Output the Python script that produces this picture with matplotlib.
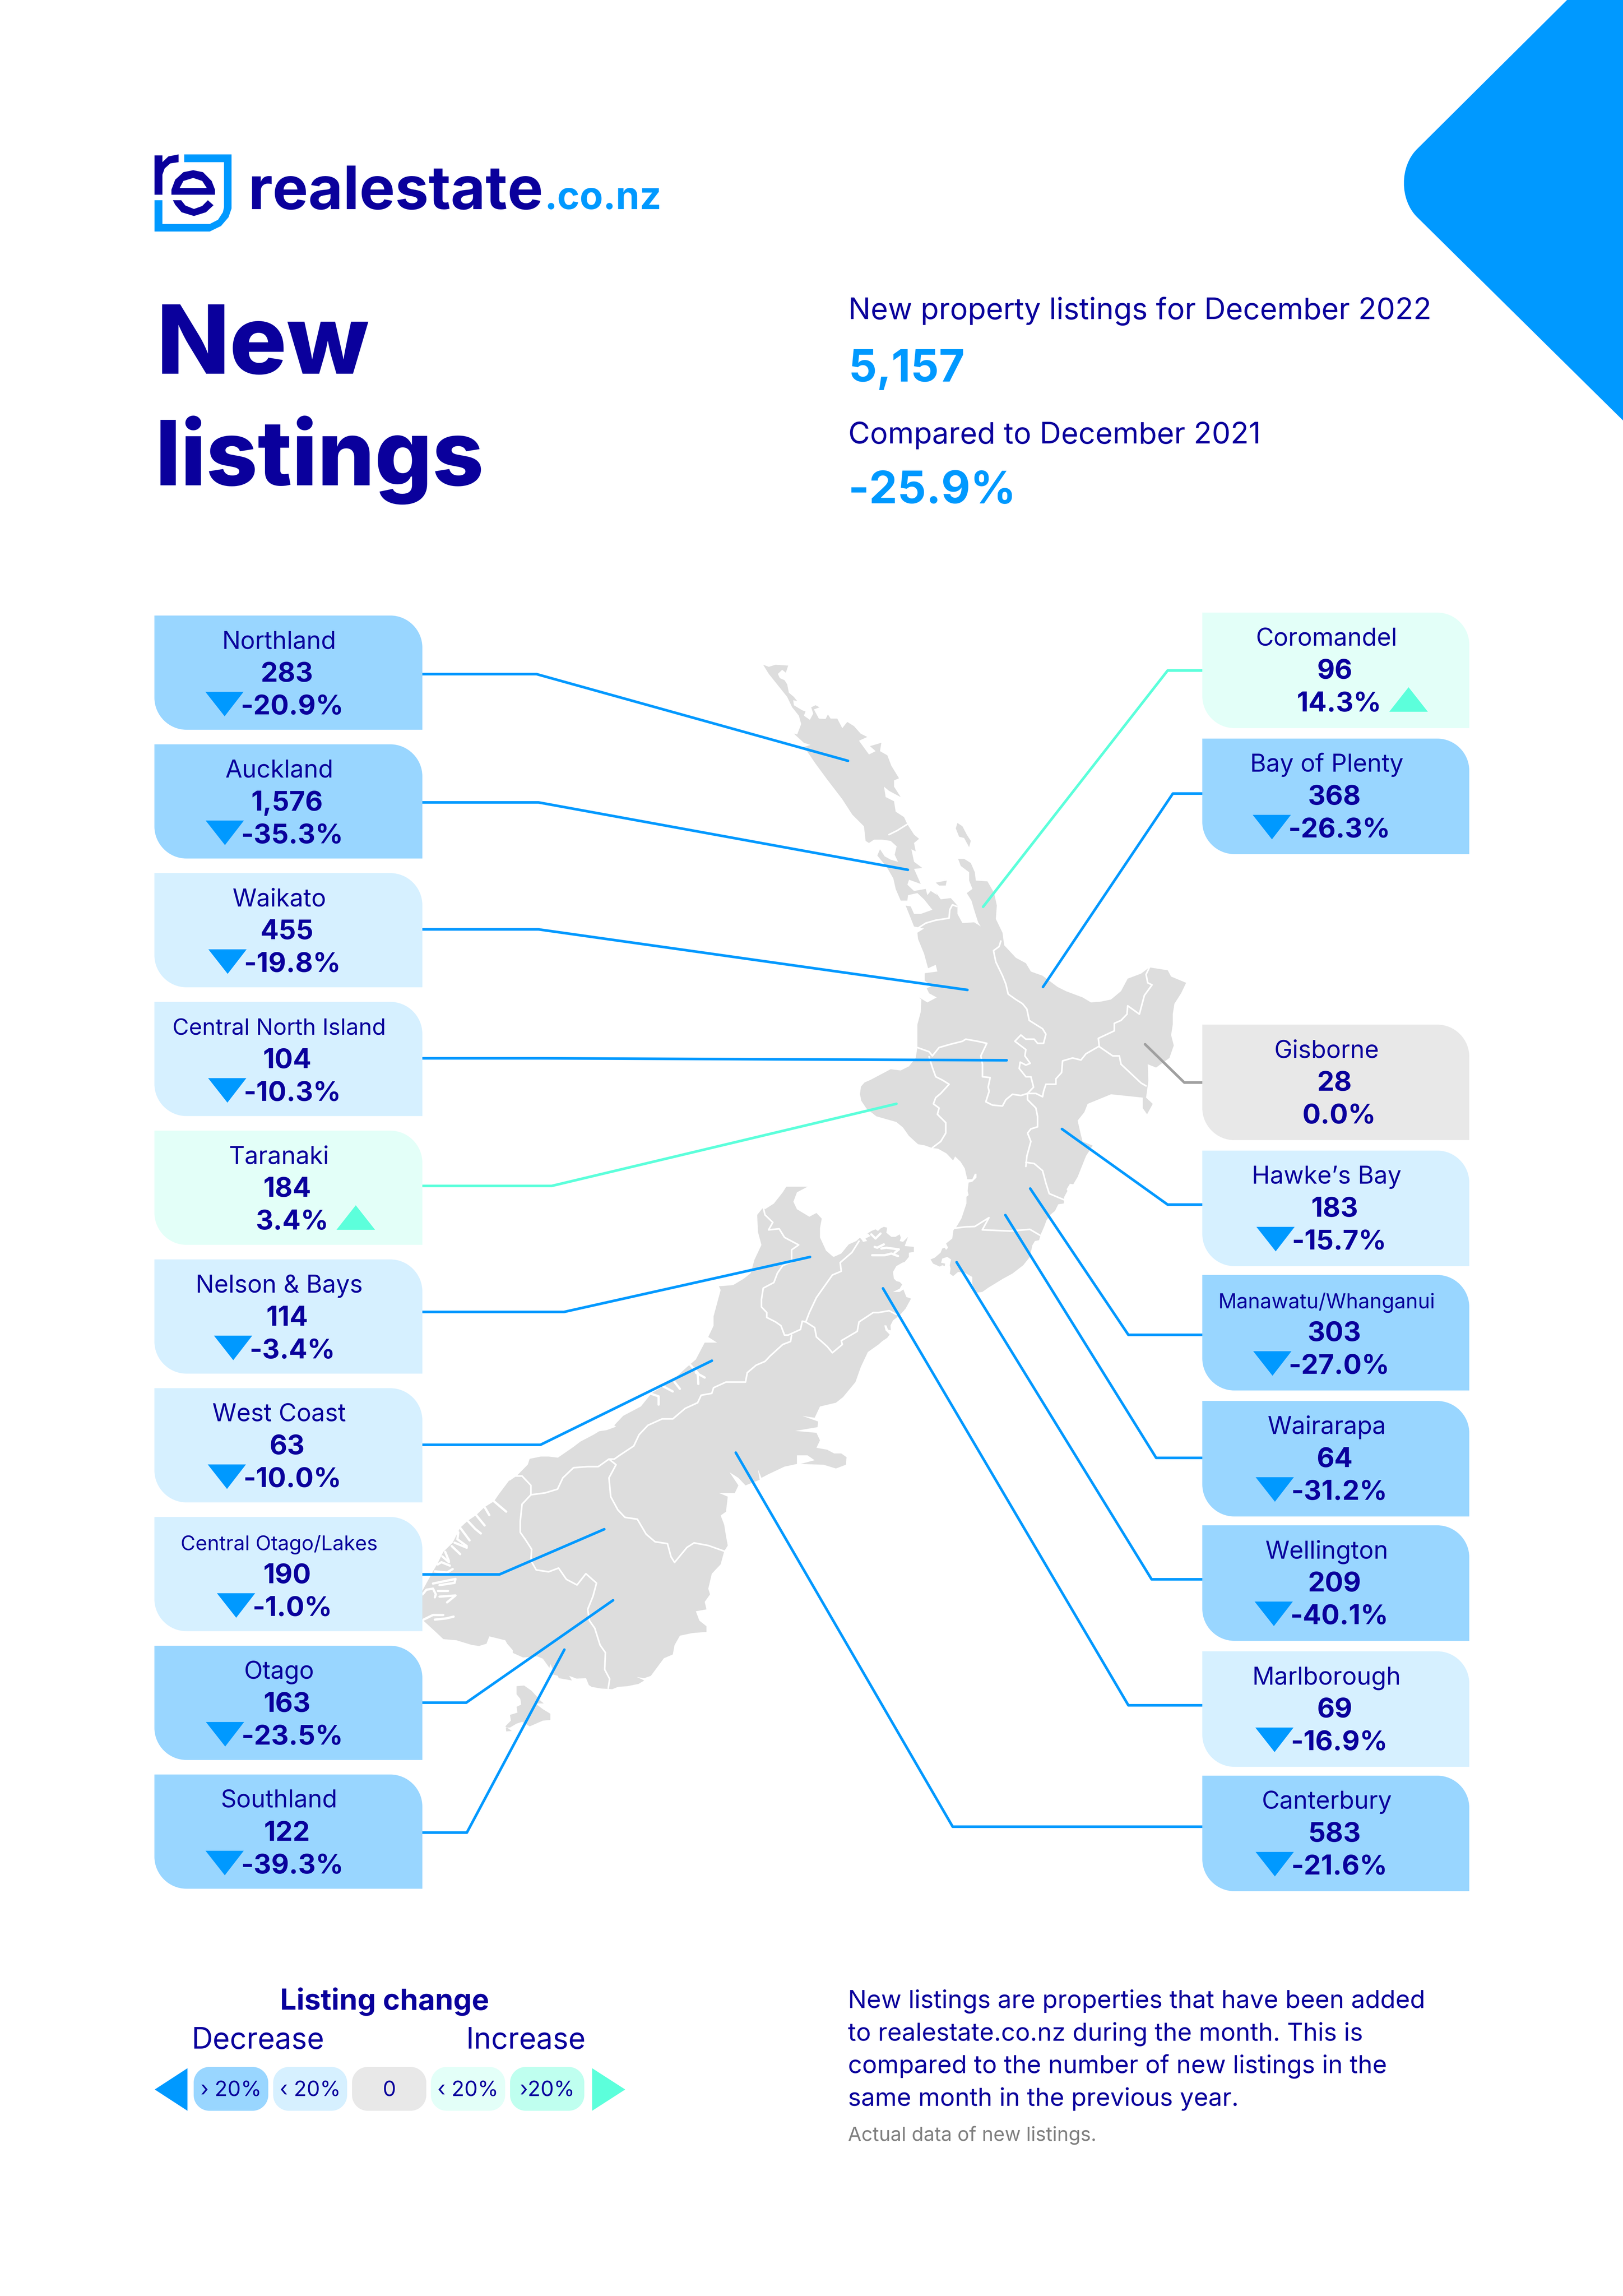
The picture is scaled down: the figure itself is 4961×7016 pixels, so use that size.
"""New listings poster, December 2022. Everything is drawn in page pixels."""
import matplotlib
matplotlib.use("Agg")
import matplotlib.pyplot as plt
from matplotlib.patches import PathPatch, Polygon
from matplotlib.path import Path

plt.rcParams["font.family"] = ["Inter", "Lato", "DejaVu Sans"]

W, H, DPI = 4961, 7016, 300
DARK, BLUE, MINT = "#0A009C", "#0099FF", "#5CFFDB"
LAND = "#DDDDDD"

# ---------------- data ----------------
LEFT_NAMES = ["Northland", "Auckland", "Waikato", "Central North Island", "Taranaki",
              "Nelson & Bays", "West Coast", "Central Otago/Lakes", "Otago", "Southland"]
LEFT_VALUES = [283, 1576, 455, 104, 184, 114, 63, 190, 163, 122]
LEFT_CHANGE = [-20.9, -35.3, -19.8, -10.3, 3.4, -3.4, -10.0, -1.0, -23.5, -39.3]
RIGHT_NAMES = ["Coromandel", "Bay of Plenty", "Gisborne", "Hawke\u2019s Bay", "Manawatu/Whanganui",
               "Wairarapa", "Wellington", "Marlborough", "Canterbury"]
RIGHT_VALUES = [96, 368, 28, 183, 303, 64, 209, 69, 583]
RIGHT_CHANGE = [14.3, -26.3, 0.0, -15.7, -27.0, -31.2, -40.1, -16.9, -21.6]
LEGEND_LABELS = ["\u203a 20%", "\u2039 20%", "0", "\u2039 20%", "\u203a20%"]
TOTAL_NEW, TOTAL_CHANGE = "5,157", "-25.9%"
NOTE_LINES = ["New listings are properties that have been added",
              "to realestate.co.nz during the month. This is",
              "compared to the number of new listings in the",
              "same month in the previous year."]

# ---------------- layout ----------------
LEFT_TOPS = [1881 + 393.5 * i for i in range(10)]
RIGHT_TOPS = [1872, 2257, 3131, 3516, 3896, 4281, 4661, 5046, 5426]
NAME_PT = {"Central North Island": 16.6, "Manawatu/Whanganui": 15, "Central Otago/Lakes": 14.9}

LEFT_LINES = [[(1640, 2060), (2592, 2325)], [(1646, 2452), (2775, 2658)], [(1646, 2840), (2957, 3025)],
              [(1655, 3234), (3077, 3240)], [(1686, 3624), (2740, 3373)], [(1724, 4009), (2476, 3841)],
              [(1652, 4415), (2176, 4158)], [(1527, 4811), (1847, 4673)], [(1425, 5203), (1874, 4890)],
              [(1427, 5600), (1725, 5041)]]
RIGHT_LINES = [[(3569, 2049), (3005, 2771)], [(3585, 2425), (3188, 3016)], [(3620, 3308), (3500, 3191)],
               [(3569, 3681), (3246, 3450)], [(3449, 4079), (3149, 3632)], [(3534, 4455), (3073, 3713)],
               [(3520, 4826), (2924, 3857)], [(3449, 5211), (2699, 3937)], [(2912, 5582), (2249, 4439)]]


# the map was traced on enlarged crops, each helper brings one crop back to page pixels
def crop(x0, y0, sx, sy):
    return lambda pts: [(x0 + x / sx, y0 + y / sy) for x, y in pts]


z1, z2 = crop(2100, 1900, .98, .784), crop(1200, 3500, .9224, .871)
z6, z7 = crop(2500, 3300, 1.96, 1.96), crop(1200, 4300, 1.742, 1.425)
z3 = crop(400, 400, .871, 1.307)

NORTH = z1([(228, 103), (245, 108), (265, 103), (303, 105), (296, 122), (285, 115), (272, 125), (278, 135),
            (292, 140), (300, 150), (305, 170), (320, 180), (330, 190), (318, 188), (320, 200), (345, 212),
            (355, 215), (350, 225), (368, 235), (378, 220), (372, 205), (385, 200), (397, 205), (380, 210),
            (395, 232), (415, 233), (422, 222), (430, 232), (450, 232), (465, 255), (480, 240), (500, 250),
            (520, 268), (540, 276), (515, 285), (545, 318), (565, 310), (548, 298), (582, 290), (578, 310),
            (600, 320), (612, 345), (635, 375), (620, 380), (620, 395), (640, 420), (605, 405), (590, 395),
            (595, 420), (620, 430), (625, 455), (650, 468), (660, 485), (680, 510), (695, 520), (680, 530),
            (685, 550), (672, 545), (680, 575), (705, 590), (680, 592), (700, 628), (665, 618), (660, 630),
            (680, 645), (715, 640), (720, 655), (730, 645), (750, 655), (745, 648), (760, 665), (790, 662),
            (810, 680), (810, 700), (825, 722), (860, 720), (880, 730), (872, 720), (860, 690), (852, 668),
            (838, 650), (855, 640), (845, 620), (845, 600), (820, 585), (812, 568), (830, 568), (850, 578),
            (862, 600), (865, 620), (900, 622), (920, 650), (928, 680), (925, 712), (945, 745), (950, 775),
            (985, 805), (1015, 818), (1030, 838), (1065, 848), (1110, 875), (1135, 885), (1185, 900),
            (1210, 912), (1240, 910), (1270, 905), (1300, 885), (1320, 855), (1360, 843), (1385, 828),
            (1440, 835), (1450, 850), (1495, 865), (1480, 890), (1460, 915), (1455, 940), (1455, 965),
            (1450, 990), (1458, 1015), (1445, 1045), (1405, 1068), (1380, 1060), (1382, 1100), (1375, 1140),
            (1395, 1155), (1378, 1180), (1365, 1165), (1365, 1140), (1270, 1132), (1200, 1155), (1190, 1175),
            (1170, 1195), (1180, 1230), (1185, 1245), (1215, 1255), (1195, 1280), (1170, 1330)]) \
    + z6([(1530, 625), (1510, 622), (1490, 655), (1495, 665), (1476, 700), (1473, 740), (1440, 745), (1420, 785),
          (1395, 805), (1370, 840), (1355, 880), (1335, 925), (1325, 960), (1300, 965), (1285, 990), (1270, 1060),
          (1230, 1110), (1165, 1160), (1110, 1190), (1020, 1245), (985, 1270), (940, 1275), (925, 1220), (925, 1180),
          (880, 1155), (840, 1150), (810, 1175), (790, 1160), (795, 1130), (790, 1110), (798, 1075), (775, 1060),
          (745, 1070), (738, 1095), (762, 1100), (760, 1115), (745, 1110), (730, 1118), (690, 1100), (675, 1075),
          (700, 1065), (735, 1035), (745, 1010), (760, 1005), (768, 1018), (780, 1005), (768, 980), (805, 950),
          (812, 900), (830, 880), (860, 830), (880, 770), (890, 740), (890, 700), (903, 690), (897, 665), (903, 615),
          (925, 610), (950, 585), (950, 562), (940, 562), (925, 595), (895, 595), (880, 530), (855, 490), (822, 458),
          (810, 482), (770, 440), (720, 412), (685, 408), (640, 392), (600, 385), (545, 335), (510, 285), (470, 252),
          (375, 225), (350, 218), (290, 170), (260, 125), (252, 85), (258, 40), (280, 15), (315, 0)]) \
    + z1([(610, 1072), (640, 1075), (665, 1065), (685, 1045), (690, 1020), (690, 965), (700, 935), (702, 905),
          (695, 900), (720, 912), (748, 900), (725, 890), (718, 878), (735, 872), (712, 860), (712, 842), (750, 838),
          (745, 822), (722, 830), (710, 795), (692, 760), (690, 745), (710, 735), (680, 730), (670, 710), (655, 680),
          (670, 682), (680, 700), (700, 700), (735, 690), (725, 680), (710, 665), (690, 650), (662, 655), (660, 668),
          (640, 668), (625, 640), (618, 615), (600, 590), (570, 560), (578, 545), (592, 562), (610, 570), (632, 575),
          (622, 558), (628, 538), (610, 525), (585, 522), (560, 522), (545, 530), (535, 525), (530, 490), (495, 462),
          (465, 425), (420, 378), (385, 340), (368, 320), (350, 300), (370, 295), (350, 290), (320, 268), (330, 270),
          (342, 245), (335, 225), (315, 205), (300, 180), (270, 150), (245, 125)])
BARRIER = z1([(810, 482), (825, 490), (838, 510), (850, 525), (845, 540), (830, 518), (815, 515), (805, 495)])
WAIHEKE = z1([(745, 625), (778, 620), (775, 632), (755, 632)])

SOUTH = z2([(1110, 110), (1170, 110), (1140, 125), (1130, 150), (1140, 170), (1175, 190), (1195, 180), (1210, 195),
            (1205, 220), (1205, 245), (1222, 280), (1240, 295)]) \
    + z6([(95, 1060), (140, 1040), (185, 985), (230, 965), (252, 945), (265, 960), (270, 970), (295, 965), (285, 950),
          (315, 935), (300, 920), (290, 925), (320, 905), (345, 895), (360, 905), (375, 890), (395, 880), (415, 885),
          (410, 915), (440, 940), (465, 940), (490, 925), (497, 945), (490, 965), (510, 970), (540, 940), (520, 995),
          (575, 1000), (575, 1030), (545, 1035), (545, 1060), (520, 1090), (505, 1095), (470, 1115), (450, 1150),
          (455, 1190), (470, 1205), (490, 1210), (505, 1225), (490, 1250), (450, 1270), (490, 1270), (512, 1255),
          (530, 1300), (558, 1310), (525, 1370), (490, 1410), (450, 1440), (435, 1470), (437, 1500), (420, 1495),
          (410, 1470), (398, 1470), (405, 1500), (430, 1525), (415, 1545), (385, 1565)]) \
    + z2([(1370, 530), (1340, 550), (1320, 590), (1305, 630), (1270, 670), (1250, 685), (1205, 695), (1190, 725),
          (1155, 720), (1200, 735), (1198, 750), (1135, 760), (1195, 765), (1205, 785), (1195, 805), (1225, 810),
          (1245, 820), (1265, 820), (1280, 830), (1278, 850), (1250, 860), (1215, 850), (1150, 848), (1190, 838),
          (1170, 825), (1140, 825), (1140, 848), (1105, 855), (1060, 875), (1040, 885), (1030, 862), (1035, 890),
          (995, 905), (975, 885), (950, 870), (975, 905), (965, 925), (920, 925), (945, 935), (940, 975), (925, 985),
          (935, 1010), (940, 1040), (945, 1065), (935, 1080), (925, 1115), (900, 1140), (890, 1180), (895, 1195),
          (880, 1215), (885, 1235), (855, 1240), (865, 1265), (885, 1280), (885, 1295), (845, 1298), (810, 1305),
          (795, 1330), (790, 1355), (765, 1365)]) \
    + z7([(1375, 1170), (1340, 1180), (1300, 1175), (1340, 1190), (1310, 1205), (1250, 1215), (1200, 1218), (1170, 1228),
          (1110, 1225), (1060, 1218), (1045, 1210), (1030, 1180), (980, 1182), (940, 1170), (955, 1190), (885, 1180),
          (880, 1170), (830, 1158), (860, 1155), (840, 1118), (835, 1135), (800, 1095), (770, 1085), (695, 1090),
          (640, 1070), (640, 1058), (610, 1030), (600, 1015), (515, 998), (500, 1030), (460, 1040), (420, 1035),
          (340, 1015), (270, 1010), (238, 985), (158, 925), (100, 860), (158, 800), (215, 715), (240, 680), (270, 630),
          (320, 590), (360, 525), (400, 495), (445, 470), (490, 435), (540, 410), (565, 380), (620, 320), (660, 300),
          (720, 250), (730, 225), (790, 215), (830, 215), (880, 220), (960, 175), (1000, 150), (1070, 120), (1100, 105),
          (1140, 100), (1190, 85)]) \
    + z2([(625, 745), (650, 720), (700, 695), (730, 660), (790, 625), (830, 590), (855, 570), (880, 525), (915, 525),
          (890, 510), (905, 480), (905, 455), (915, 420), (925, 385), (920, 375), (960, 372), (990, 355), (1010, 340),
          (1020, 305), (1030, 285), (1040, 265), (1030, 230), (1028, 185), (1045, 165), (1050, 170), (1075, 155),
          (1100, 125)])
STEWART = z7([(660, 1215), (700, 1212), (740, 1235), (790, 1280), (805, 1290), (760, 1290), (800, 1315), (840, 1335),
              (840, 1362), (800, 1365), (730, 1390), (690, 1370), (660, 1378), (625, 1395), (603, 1395), (605, 1412),
              (635, 1410), (600, 1390), (630, 1365), (625, 1340), (665, 1330), (660, 1305), (685, 1295), (680, 1270),
              (660, 1250)])

BORDERS = [
    z1([(660, 485), (630, 500), (605, 510)]),
    z1([(690, 735), (715, 722), (745, 715), (785, 710), (787, 690), (795, 678), (808, 682)]),
    z1([(940, 765), (935, 778), (918, 788), (925, 815), (945, 848), (955, 868), (962, 892), (985, 905), (1005, 915),
        (1018, 928), (1025, 955), (1065, 975), (1075, 988), (1068, 1010), (1050, 1010), (1040, 1000), (1015, 1000),
        (1000, 990), (982, 1005), (1015, 1025), (1012, 1040), (1028, 1058), (1015, 1062), (998, 1055), (995, 1070),
        (1015, 1090), (1030, 1090), (1038, 1115), (1020, 1130)]),
    z1([(690, 1020), (725, 1030), (735, 1040), (755, 1020), (790, 1012), (825, 1005), (835, 1000), (870, 1005),
        (898, 1010), (880, 1040), (885, 1060), (885, 1090), (908, 1092), (902, 1115), (905, 1125), (895, 1150),
        (915, 1158), (945, 1160), (955, 1145), (975, 1132), (1000, 1135), (1020, 1130)]),
    z1([(725, 1042), (735, 1068), (745, 1090), (765, 1098), (785, 1108), (760, 1130), (745, 1140), (738, 1155),
        (755, 1165), (750, 1180), (775, 1200), (775, 1225), (760, 1245), (735, 1260)]),
    z1([(1385, 828), (1375, 845), (1380, 865), (1393, 870), (1370, 895), (1355, 940), (1320, 920), (1318, 940),
        (1300, 955), (1280, 962), (1280, 980), (1232, 998), (1235, 1018), (1275, 1040), (1295, 1040), (1300, 1060),
        (1360, 1105), (1375, 1112)]),
    z1([(1232, 1018), (1195, 1035), (1180, 1050), (1155, 1045), (1125, 1052), (1122, 1080), (1105, 1095), (1105, 1108),
        (1075, 1108), (1068, 1125), (1065, 1138), (1045, 1130), (1020, 1130), (1020, 1145), (1045, 1165), (1050, 1185),
        (1050, 1210), (1030, 1215), (1020, 1225), (1030, 1245), (1018, 1280), (1015, 1305)]),
    z1([(1015, 1295), (1040, 1298), (1065, 1315), (1075, 1345), (1085, 1370), (1130, 1385)]),
    z6([(820, 888), (885, 880), (940, 878), (1025, 825), (985, 898), (1150, 905), (1270, 895), (1330, 930)]),
    z2([(1045, 165), (1050, 185), (1072, 205), (1060, 225), (1090, 222), (1105, 245), (1145, 265), (1125, 278),
        (1125, 310), (1100, 320), (1085, 340), (1075, 365), (1045, 380), (1040, 410), (1040, 430), (1055, 445),
        (1055, 458), (1080, 470), (1095, 480), (1105, 505), (1115, 505), (1150, 490), (1155, 468), (1165, 470),
        (1175, 445), (1195, 405), (1240, 345), (1265, 335), (1262, 312), (1295, 285), (1315, 255)]),
    z2([(1165, 470), (1190, 485), (1195, 510), (1225, 535), (1240, 552), (1268, 530), (1265, 520), (1310, 495),
        (1315, 470), (1355, 445), (1370, 445), (1400, 440), (1420, 450)]),
    z2([(1125, 505), (1122, 522), (1100, 530), (1065, 560), (1050, 575), (1025, 585), (1000, 605), (995, 630), (940, 630),
        (905, 645), (900, 660), (870, 665), (860, 685), (825, 700), (790, 728), (760, 728), (720, 745), (695, 770),
        (680, 800), (640, 825), (625, 835), (610, 835), (630, 850), (610, 885), (615, 935), (635, 970), (655, 990),
        (690, 995), (715, 1035), (740, 1055), (775, 1060), (785, 1095), (795, 1110), (830, 1070), (850, 1058),
        (890, 1065), (935, 1080)]),
    z2([(610, 835), (580, 855), (550, 855), (510, 858), (480, 885), (465, 915), (430, 925), (390, 930), (365, 955),
        (360, 1000), (360, 1030), (375, 1050), (392, 1075), (390, 1105), (405, 1130), (440, 1135), (468, 1125), (490, 1155),
        (520, 1170), (545, 1140), (575, 1165), (565, 1200), (550, 1235), (555, 1265), (570, 1285), (585, 1330), (600, 1350),
        (598, 1395), (612, 1420), (608, 1445)]),
    z2([(390, 930), (390, 905), (365, 880), (345, 880), (330, 890)]),
]
INLETS = [
    z7([(165, 925), (215, 905), (270, 905)]), z7([(225, 925), (285, 920), (325, 912)]),
    z7([(160, 815), (180, 795), (215, 790), (230, 815), (225, 828)]), z7([(240, 800), (295, 800)]),
    z7([(250, 825), (335, 820), (290, 850)]), z7([(215, 768), (335, 748), (330, 765), (250, 775)]),
    z7([(225, 715), (290, 720), (320, 705)]), z7([(240, 685), (260, 675), (305, 690)]),
    z7([(265, 650), (300, 675)]), z7([(280, 630), (300, 670)]), z7([(315, 605), (360, 640)]),
    z7([(330, 590), (395, 612)]), z7([(350, 545), (345, 575), (395, 605)]), z7([(360, 525), (410, 580)]),
    z7([(400, 495), (440, 530), (470, 550)]), z7([(445, 470), (490, 515)]), z7([(490, 435), (515, 470)]),
    z7([(540, 410), (605, 455)]),
    z2([(795, 630), (810, 648)]), z2([(760, 640), (790, 655)]), z2([(725, 660), (750, 668), (750, 690)]),
    z2([(840, 585), (860, 605), (862, 635)]), z2([(855, 605), (880, 618)]),
    z6([(325, 1050), (400, 1050), (440, 1040), (480, 1055)]), z6([(380, 1010), (410, 1005), (485, 1015), (460, 1035)]),
    z6([(340, 1000), (355, 1005), (395, 985)]), z6([(320, 925), (345, 950), (375, 920)]),
]


def box_color(change):
    if change == 0:
        return "#E8E8E8"
    if change > 0:
        return "#E3FFF8"
    return "#99D6FF" if change <= -20 else "#D6F0FF"


def line_color(change):
    return "#A0A0A0" if change == 0 else (MINT if change > 0 else BLUE)


def px(size):
    return size * 72 / DPI


fig = plt.figure(figsize=((W + .1) / DPI, (H + .1) / DPI), dpi=DPI)
ax = fig.add_axes([0, 0, 1, 1])
ax.set_xlim(0, W); ax.set_ylim(H, 0); ax.axis("off")


def poly(pts, color, z=2):
    ax.add_patch(Polygon(pts, closed=True, fc=color, ec="none", zorder=z))


def round_box(x0, y0, x1, y1, r, color):
    """Only the top right and bottom left corners are rounded."""
    k = r * .45
    verts = [(x0, y0), (x1 - r, y0), (x1 - k, y0), (x1, y0 + k), (x1, y0 + r), (x1, y1), (x0 + r, y1),
             (x0 + k, y1), (x0, y1 - k), (x0, y1 - r), (x0, y0)]
    codes = [Path.MOVETO, Path.LINETO, Path.CURVE4, Path.CURVE4, Path.CURVE4, Path.LINETO, Path.LINETO,
             Path.CURVE4, Path.CURVE4, Path.CURVE4, Path.CLOSEPOLY]
    ax.add_patch(PathPatch(Path(verts, codes), fc=color, ec="none", zorder=4))


def pill(x0, y0, x1, y1, r, color):
    k = r * .45
    verts = [(x0 + r, y0), (x1 - r, y0), (x1 - k, y0), (x1, y0 + k), (x1, y0 + r), (x1, y1 - r),
             (x1, y1 - k), (x1 - k, y1), (x1 - r, y1), (x0 + r, y1), (x0 + k, y1), (x0, y1 - k),
             (x0, y1 - r), (x0, y0 + r), (x0, y0 + k), (x0 + k, y0), (x0 + r, y0)]
    codes = [Path.MOVETO, Path.LINETO, Path.CURVE4, Path.CURVE4, Path.CURVE4, Path.LINETO,
             Path.CURVE4, Path.CURVE4, Path.CURVE4, Path.LINETO, Path.CURVE4, Path.CURVE4, Path.CURVE4,
             Path.LINETO, Path.CURVE4, Path.CURVE4, Path.CURVE4]
    ax.add_patch(PathPatch(Path(verts, codes), fc=color, ec="none", zorder=4))


def label(x, y, s, pt, weight="normal", color=DARK, ha="center"):
    return ax.text(x, y, s, fontsize=pt, fontweight=weight, color=color, ha=ha, va="baseline", zorder=6)


def card(x0, x1, top, h, name, value, change, name_x, value_x, pct_x):
    round_box(x0, top, x1, top + h, 98, box_color(change))
    label(name_x, top + 101, name, NAME_PT.get(name, 18))
    label(value_x, top + 202, f"{value:,}", 20, "bold")
    t = label(pct_x, top + 302, f"{change:.1f}%", 20, "bold")
    bb = t.get_window_extent(fig.canvas.get_renderer()).transformed(ax.transData.inverted())
    if change < 0:
        a = bb.x0 + 9
        poly([(a - 117, top + 233), (a, top + 233), (a - 58, top + 308)], BLUE, 5)
    elif change > 0:
        a = bb.x1 + 24
        poly([(a, top + 303), (a + 118, top + 303), (a + 59, top + 228)], MINT, 5)


# ---------------- corner, logo, headings ----------------
corner = [(4790, 0), (4331, 456), (4278, 509), (4278, 610), (4331, 663), (4961, 1285), (4961, 0), (4790, 0)]
ax.add_patch(PathPatch(Path(corner, [Path.MOVETO, Path.LINETO, Path.CURVE4, Path.CURVE4, Path.CURVE4,
                                     Path.LINETO, Path.LINETO, Path.CLOSEPOLY]), fc=BLUE, ec="none", zorder=2))
poly(z3([(142, 94), (268, 94), (268, 310), (260, 345), (240, 380), (210, 402), (63, 402), (63, 277), (84, 277),
         (84, 372), (210, 372), (232, 355), (245, 325), (248, 305), (248, 125), (142, 125)]), BLUE)
poly(z3([(63, 98), (84, 98), (84, 125), (100, 102), (127, 94), (127, 125), (105, 130), (90, 150), (84, 175),
         (84, 255), (63, 255)]), DARK)
poly(z3([(108, 255), (108, 235), (118, 195), (140, 165), (166, 157), (192, 165), (215, 200), (224, 235), (224, 255)]), DARK)
poly(z3([(130, 228), (140, 200), (166, 188), (190, 200), (202, 228)]), "white", 3)
poly(z3([(112, 277), (134, 277), (145, 298), (168, 312), (190, 300), (205, 277), (220, 297), (200, 325), (168, 340),
         (135, 325), (118, 295)]), DARK)
label(758, 639, "realestate", 44, "bold", ha="left")
label(1664, 639, ".co.nz", 28, "bold", BLUE, ha="left")

label(478, 1142, "New", 70, "heavy", ha="left")
label(474, 1483, "listings", 66, "heavy", ha="left")
label(2593, 975, "New property listings for December 2022", 21.8, ha="left")
label(2593, 1166, TOTAL_NEW, 32.5, "bold", BLUE, ha="left")
label(2593, 1355, "Compared to December 2021", 21.8, ha="left")
label(2593, 1538, TOTAL_CHANGE, 33, "bold", BLUE, ha="left")

# ---------------- map ----------------
for shape in (NORTH, BARRIER, WAIHEKE, SOUTH, STEWART):
    poly(shape, LAND)
for pts in BORDERS:
    xs, ys = zip(*pts)
    ax.plot(xs, ys, color="white", lw=px(5), solid_joinstyle="round", solid_capstyle="round", zorder=2.5)
for pts in INLETS:
    xs, ys = zip(*pts)
    ax.plot(xs, ys, color="white", lw=px(7), solid_joinstyle="round", solid_capstyle="round", zorder=2.5)

# ---------------- cards and leader lines ----------------
for name, value, change, top, line in zip(LEFT_NAMES, LEFT_VALUES, LEFT_CHANGE, LEFT_TOPS, LEFT_LINES):
    card(472, 1291, top, 349, name, value, change, 853, 877, 893)
    (bx, by), end = line
    ax.plot([1291, bx, end[0]], [by, by, end[1]], color=line_color(change), lw=px(8),
            solid_joinstyle="round", solid_capstyle="round", zorder=3)
for name, value, change, top, line in zip(RIGHT_NAMES, RIGHT_VALUES, RIGHT_CHANGE, RIGHT_TOPS, RIGHT_LINES):
    card(3675, 4491, top, 353, name, value, change, 4055, 4079, 4093)
    (bx, by), end = line
    ax.plot([3675, bx, end[0]], [by, by, end[1]], color=line_color(change), lw=px(8),
            solid_joinstyle="round", solid_capstyle="round", zorder=3)

# ---------------- legend ----------------
label(1175, 6141, "Listing change", 21.4, "bold")
label(788, 6260, "Decrease", 21.6)
label(1607, 6260, "Increase", 21.6)
PILL_X = [(592, 820), (835, 1061), (1076, 1303), (1317, 1544), (1559, 1786)]
PILL_COLORS = ["#99D6FF", "#D6F0FF", "#E8E8E8", "#E3FFF8", "#BFFFEF"]
for (x0, x1), c, s in zip(PILL_X, PILL_COLORS, LEGEND_LABELS):
    pill(x0, 6316, x1, 6450, 48, c)
    label((x0 + x1) / 2, 6405, s, 15.5)
poly([(573, 6320), (573, 6450), (473, 6385)], BLUE)
poly([(1810, 6320), (1810, 6450), (1911, 6385)], MINT)

# ---------------- note ----------------
for y, s in zip([6135, 6235, 6335, 6435], NOTE_LINES):
    label(2592, y, s, 18.2, ha="left")
label(2592, 6542, "Actual data of new listings.", 14.3, color="#808080", ha="left")

fig.savefig("out.png", dpi=DPI)
